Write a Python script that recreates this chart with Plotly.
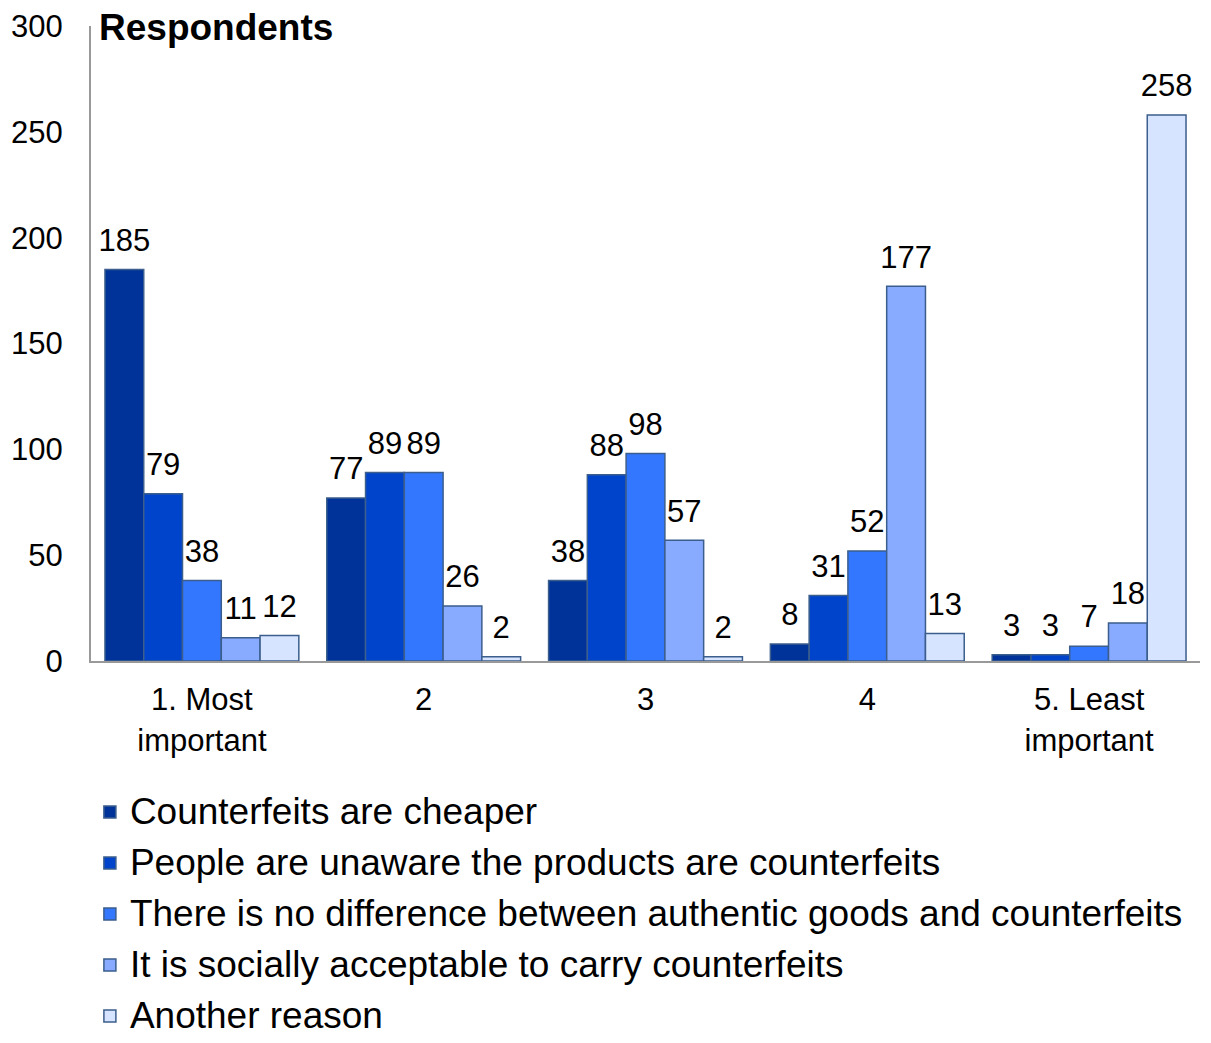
import plotly.graph_objects as go

categories = ["1. Most<br>important", "2", "3", "4", "5. Least<br>important"]
series_names = [
    "Counterfeits are cheaper",
    "People are unaware the products are counterfeits",
    "There is no difference between authentic goods and counterfeits",
    "It is socially acceptable to carry counterfeits",
    "Another reason",
]
cheaper = [185, 77, 38, 8, 3]
unaware = [79, 89, 88, 31, 3]
no_difference = [38, 89, 98, 52, 7]
socially_acceptable = [11, 26, 57, 177, 18]
another_reason = [12, 2, 2, 13, 258]
y_ticks = [0, 50, 100, 150, 200, 250, 300]

colors = ["#003399", "#0044CC", "#3377FF", "#88AAFF", "#D6E4FF"]
outline = "#3B5E8C"
font_family = "Liberation Sans, Arial, sans-serif"
all_series = [cheaper, unaware, no_difference, socially_acceptable, another_reason]

fig = go.Figure()
for i, (name, vals, col) in enumerate(zip(series_names, all_series, colors)):
    fig.add_trace(go.Bar(
        name=f"<span style='font-size:37px'>{name}</span>", x=categories, y=vals,
        offsetgroup=str(i), legendgroup=str(i),
        marker=dict(color=col, line=dict(color=outline, width=1.5)),
        cliponaxis=False,
    ))
for i, vals in enumerate(all_series):
    fig.add_trace(go.Scatter(
        x=categories, y=vals, offsetgroup=str(i), mode="markers+text",
        marker=dict(size=16, opacity=0), text=[str(v) for v in vals],
        textposition="top center",
        textfont=dict(size=31, color="black", family=font_family),
        cliponaxis=False, showlegend=False, hoverinfo="skip",
    ))

fig.update_layout(
    width=1203, height=1035,
    margin=dict(l=83, r=11, t=18, b=382, autoexpand=False),
    paper_bgcolor="white", plot_bgcolor="white",
    barmode="group", bargap=0.126, bargroupgap=0,
    scattermode="group", scattergap=0.126,
    font=dict(family=font_family, color="black"),
    showlegend=True,
    legend=dict(x=-0.001, xanchor="left", y=-0.6, yanchor="bottom",
                font=dict(size=30, color="black", family=font_family),
                traceorder="grouped", tracegroupgap=9, bgcolor="rgba(0,0,0,0)"),
    annotations=[dict(text="<b>Respondents</b>", xref="paper", yref="paper",
                      x=0.0057, y=0.997, xanchor="left", yanchor="middle",
                      showarrow=False, font=dict(size=37, color="black", family=font_family))],
)
fig.update_xaxes(showline=True, linecolor="#999999", linewidth=2, ticks="",
                 tickfont=dict(size=31, color="black", family=font_family),
                 showgrid=False, automargin=False, ticklabelstandoff=10)
fig.update_yaxes(range=[0, 300], tickvals=y_ticks, showline=True, linecolor="#999999",
                 linewidth=2, ticks="", showgrid=False, zeroline=False,
                 tickfont=dict(size=31, color="black", family=font_family),
                 ticklabelstandoff=20, automargin=False)

fig.write_html("out.html")
